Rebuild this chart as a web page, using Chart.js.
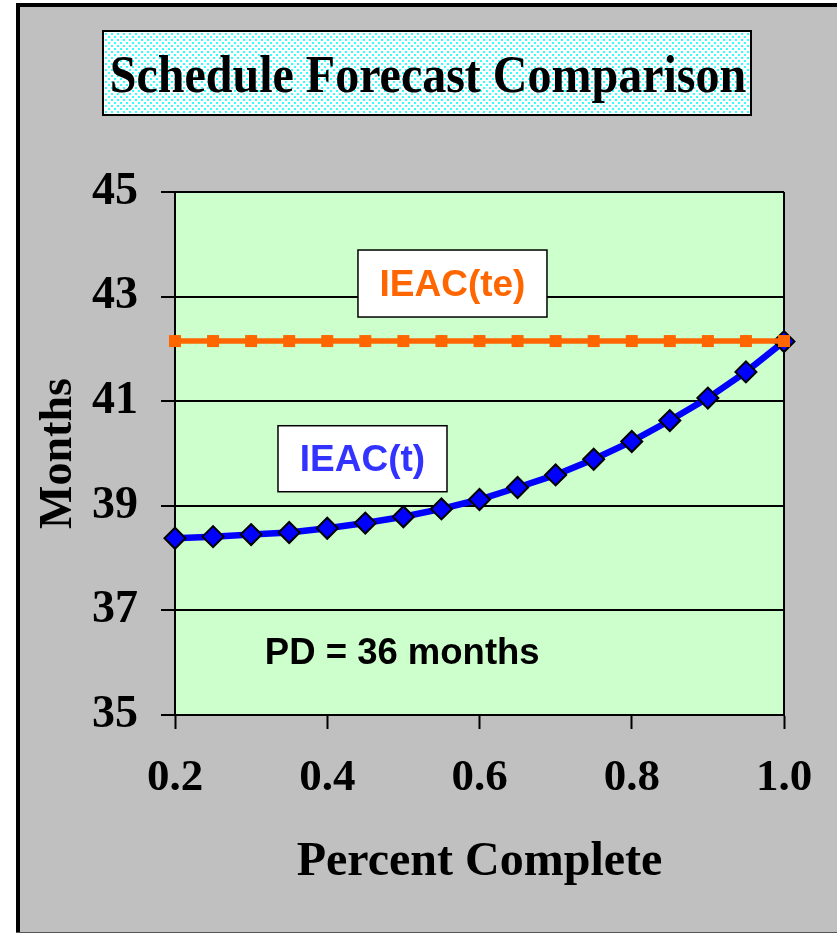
<!DOCTYPE html>
<html>
<head>
<meta charset="utf-8">
<script src="https://cdn.jsdelivr.net/npm/chart.js@4/dist/chart.umd.min.js"></script>
<style>
  html, body { margin: 0; padding: 0; background: #ffffff; }
  #chart { display: block; }
</style>
</head>
<body>
<canvas id="chart" width="837" height="934"></canvas>
<script>
// Data
const percentComplete = [0.2, 0.25, 0.3, 0.35, 0.4, 0.45, 0.5, 0.55, 0.6, 0.65, 0.7, 0.75, 0.8, 0.85, 0.9, 0.95, 1.0];
const ieacT = [38.38, 38.41, 38.45, 38.49, 38.57, 38.67, 38.79, 38.94, 39.12, 39.35, 39.59, 39.89, 40.23, 40.63, 41.06, 41.56, 42.14];
const ieacTE = [42.15, 42.15, 42.15, 42.15, 42.15, 42.15, 42.15, 42.15, 42.15, 42.15, 42.15, 42.15, 42.15, 42.15, 42.15, 42.15, 42.15];
const xTicks = [0.2, 0.4, 0.6, 0.8, 1.0];
const yTicks = [35, 37, 39, 41, 43, 45];

const chartTitle = 'Schedule Forecast Comparison';
const xTitle = 'Percent Complete';
const yTitle = 'Months';

// Text labels inside the plot, anchored in data coordinates
const labels = [
    { text: 'IEAC(te)', x: 0.5645, y: 43.25, w: 189, h: 67, color: '#FF6600', box: true },
    { text: 'IEAC(t)', x: 0.4463, y: 39.9, w: 169, h: 66, color: '#3333FF', box: true },
    { text: 'PD = 36 months', x: 0.318, y: 36.2, color: '#000000', box: false }
];

const SERIF = '"Liberation Serif", "Times New Roman", serif';
const SANS = '"Liberation Sans", Arial, sans-serif';

// Dotted cyan fill used behind the title
function makeDotPattern(ctx) {
    const tile = document.createElement('canvas');
    tile.width = 6;
    tile.height = 6;
    const t = tile.getContext('2d');
    t.fillStyle = '#ffffff';
    t.fillRect(0, 0, 6, 6);
    t.fillStyle = '#33ffff';
    t.fillRect(0, 0, 2, 2);
    t.fillRect(3, 3, 2, 2);
    return ctx.createPattern(tile, 'repeat');
}

// Grey frame, plot background and title box
const backgroundPlugin = {
    id: 'background',
    beforeDraw(chart) {
        const ctx = chart.ctx;
        const area = chart.chartArea;
        ctx.save();
        ctx.fillStyle = '#ffffff';
        ctx.fillRect(0, 0, chart.width, chart.height);
        ctx.fillStyle = '#C0C0C0';
        ctx.fillRect(16, 3, chart.width - 16, 929);
        ctx.fillStyle = '#000000';
        ctx.fillRect(16, 3, 4, 929);
        ctx.fillRect(16, 3, chart.width - 16, 4);
        ctx.fillStyle = '#555555';
        ctx.fillRect(16, 932, chart.width - 16, 1);

        // plot area
        ctx.fillStyle = '#CCFFCC';
        ctx.fillRect(area.left, area.top, area.right - area.left, area.bottom - area.top);

        // title box
        ctx.fillStyle = makeDotPattern(ctx);
        ctx.fillRect(103, 31, 648, 84);
        ctx.strokeStyle = '#000000';
        ctx.lineWidth = 2;
        ctx.strokeRect(103, 31, 648, 84);
        ctx.fillStyle = '#000000';
        ctx.font = 'bold 48px ' + SERIF;
        ctx.textAlign = 'center';
        ctx.textBaseline = 'alphabetic';
        ctx.translate(428, 92);
        ctx.scale(1, 1.08);
        ctx.fillText(chartTitle, 0, 0);
        ctx.restore();
    },
    beforeDatasetsDraw(chart) {
        // right-hand edge of the plot box
        const ctx = chart.ctx;
        const area = chart.chartArea;
        ctx.save();
        ctx.strokeStyle = '#000000';
        ctx.lineWidth = 2;
        ctx.beginPath();
        ctx.moveTo(area.right, area.top);
        ctx.lineTo(area.right, area.bottom);
        ctx.stroke();
        ctx.restore();
    },
    afterDatasetsDraw(chart) {
        const ctx = chart.ctx;
        const xs = chart.scales.x;
        const ys = chart.scales.y;
        ctx.save();
        labels.forEach(l => {
            const cx = xs.getPixelForValue(l.x);
            const cy = ys.getPixelForValue(l.y);
            if (l.box) {
                ctx.fillStyle = '#ffffff';
                ctx.fillRect(cx - l.w / 2, cy - l.h / 2, l.w, l.h);
                ctx.strokeStyle = '#000000';
                ctx.lineWidth = 1.5;
                ctx.strokeRect(cx - l.w / 2, cy - l.h / 2, l.w, l.h);
                ctx.fillStyle = l.color;
                ctx.font = 'bold 37px ' + SANS;
                ctx.textAlign = 'center';
                ctx.textBaseline = 'middle';
                ctx.fillText(l.text, cx, cy + 2);
            } else {
                ctx.fillStyle = l.color;
                ctx.font = 'bold 36.5px ' + SANS;
                ctx.textAlign = 'left';
                ctx.textBaseline = 'middle';
                ctx.fillText(l.text, cx, cy + 2);
            }
        });
        ctx.restore();
    }
};

const ctx = document.getElementById('chart').getContext('2d');
const chart = new Chart(ctx, {
    type: 'line',
    data: {
        datasets: [
            {
                label: 'IEAC(te)',
                data: percentComplete.map((x, i) => ({ x: x, y: ieacTE[i] })),
                borderColor: '#FF6600',
                borderWidth: 5.5,
                backgroundColor: '#FF6600',
                pointStyle: 'rect',
                pointRadius: 8.5,
                pointBorderWidth: 0,
                pointBackgroundColor: '#FF6600',
                tension: 0,
                clip: false,
                order: 0
            },
            {
                label: 'IEAC(t)',
                data: percentComplete.map((x, i) => ({ x: x, y: ieacT[i] })),
                borderColor: '#0000FF',
                borderWidth: 6.5,
                backgroundColor: '#0000FF',
                pointStyle: 'rectRot',
                pointRadius: 10.5,
                pointBorderWidth: 2,
                pointBorderColor: '#000000',
                pointBackgroundColor: '#0000FF',
                tension: 0,
                clip: false,
                order: 1
            }
        ]
    },
    options: {
        responsive: false,
        animation: false,
        events: [],
        layout: { padding: { left: 20, top: 192, right: 53, bottom: 0 } },
        plugins: {
            legend: { display: false },
            title: { display: false },
            tooltip: { enabled: false }
        },
        scales: {
            x: {
                type: 'linear',
                min: 0.2,
                max: 1.0,
                afterBuildTicks: scale => { scale.ticks = xTicks.map(v => ({ value: v })); },
                afterFit: scale => { scale.height = 219; },
                ticks: {
                    color: '#000000',
                    font: { family: SERIF, size: 45, weight: 'bold' },
                    padding: 22,
                    maxRotation: 0,
                    callback: v => Number(v).toFixed(1)
                },
                grid: {
                    drawOnChartArea: false,
                    drawTicks: true,
                    tickLength: 14,
                    tickWidth: 2,
                    tickColor: '#000000'
                },
                border: { display: true, color: '#000000', width: 2 },
                title: {
                    display: true,
                    text: xTitle,
                    color: '#000000',
                    font: { family: SERIF, size: 48, weight: 'bold' },
                    padding: { top: 0, bottom: 43 }
                }
            },
            y: {
                min: 35,
                max: 45,
                afterBuildTicks: scale => { scale.ticks = yTicks.map(v => ({ value: v })); },
                afterFit: scale => { scale.width = 155; },
                ticks: {
                    color: '#000000',
                    font: { family: SERIF, size: 46, weight: 'bold' },
                    padding: 23
                },
                grid: {
                    color: '#000000',
                    lineWidth: 2,
                    drawTicks: true,
                    tickLength: 14,
                    tickWidth: 2,
                    tickColor: '#000000'
                },
                border: { display: true, color: '#000000', width: 2 },
                title: {
                    display: true,
                    text: yTitle,
                    color: '#000000',
                    font: { family: SERIF, size: 46, weight: 'bold' },
                    padding: { top: 12, bottom: 0 }
                }
            }
        }
    },
    plugins: [backgroundPlugin]
});
</script>
</body>
</html>
